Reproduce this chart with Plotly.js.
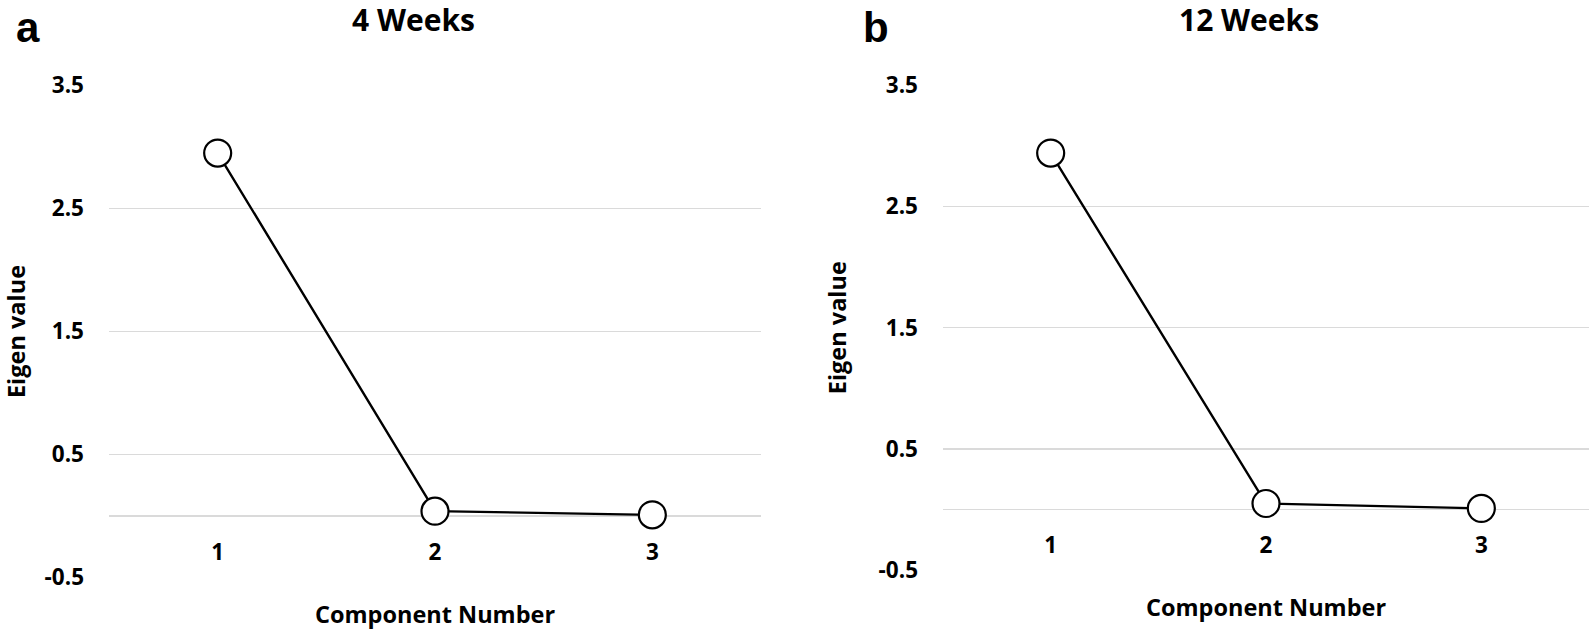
<!DOCTYPE html>
<html><head><meta charset="utf-8">
<script src="https://cdn.plot.ly/plotly-3.0.1.min.js"></script>
<style>html,body{margin:0;padding:0;background:#fff}#chart{width:1594px;height:632px}</style>
</head><body><div id="chart"></div>
<script>
// ---- data ----
const components = [1, 2, 3];
const componentLabels = ['1', '2', '3'];
const eigen4Weeks = [2.95, 0.04, 0.01];
const eigen12Weeks = [2.94, 0.05, 0.01];
const yTickVals = [-0.5, 0.5, 1.5, 2.5, 3.5];
const yTickText = ['-0.5', '0.5', '1.5', '2.5', '3.5'];
const panelTitles = ['4 Weeks', '12 Weeks'];
const panelLetters = ['a', 'b'];
const xTitle = 'Component Number';
const yTitle = 'Eigen value';

// ---- layout helpers ----
const W = 1594, H = 632;
const FONT = '"Open Sans", "Noto Sans", sans-serif';
const yRange = [-0.5, 3.5];
function py(px) { return (H - px) / H; }
const domA = {x: [109 / W, 761 / W], y: [py(577.6), py(85.4)]};
const domB = {x: [943 / W, 1589 / W], y: [py(570.2), py(85.2)]};
function zeroPos(dom) {
  return dom.y[0] + (0 - yRange[0]) / (yRange[1] - yRange[0]) * (dom.y[1] - dom.y[0]);
}

function trace(y, xa, ya) {
  return {
    x: components, y: y, xaxis: xa, yaxis: ya, type: 'scatter', mode: 'lines+markers',
    line: {color: '#000', width: 2.4},
    marker: {symbol: 'circle', size: 27, color: '#fff', line: {color: '#000', width: 2.2}},
    showlegend: false, cliponaxis: false
  };
}
const tickFont = {family: FONT, size: 22.5, color: '#000', weight: 700};
const titleFont = {family: FONT, size: 23.5, color: '#000', weight: 700};

function xax(dom) {
  return {
    domain: dom.x, anchor: 'free', position: zeroPos(dom), range: [0.5, 3.5],
    tickmode: 'array', tickvals: components, ticktext: componentLabels,
    showgrid: false, zeroline: false, showline: false, ticks: '',
    ticklabelstandoff: 20, tickfont: tickFont,
    title: {text: xTitle, font: titleFont, standoff: 40}, fixedrange: true
  };
}
function yax(dom, anchor) {
  return {
    domain: dom.y, anchor: anchor, range: yRange,
    tickmode: 'array', tickvals: yTickVals, ticktext: yTickText,
    showgrid: true, gridcolor: '#dadada', gridwidth: 1.3,
    zeroline: true, zerolinecolor: '#dadada', zerolinewidth: 1.3,
    showline: false, ticks: '', ticklabelstandoff: 24, tickfont: tickFont,
    title: {text: yTitle, font: titleFont, standoff: 25}, fixedrange: true
  };
}

const data = [trace(eigen4Weeks, 'x', 'y'), trace(eigen12Weeks, 'x2', 'y2')];

const annotations = [
  {text: panelTitles[0], x: 413 / W, y: py(20), xref: 'paper', yref: 'paper', xanchor: 'center', yanchor: 'middle', showarrow: false, font: {family: FONT, size: 30, color: '#000', weight: 700}},
  {text: panelTitles[1], x: 1249 / W, y: py(20), xref: 'paper', yref: 'paper', xanchor: 'center', yanchor: 'middle', showarrow: false, font: {family: FONT, size: 30, color: '#000', weight: 700}},
  {text: panelLetters[0], x: 14 / W, y: py(27), xref: 'paper', yref: 'paper', xanchor: 'left', yanchor: 'middle', showarrow: false, font: {family: '"Liberation Sans", Arial, sans-serif', size: 42, color: '#000', weight: 700}},
  {text: panelLetters[1], x: 861 / W, y: py(27), xref: 'paper', yref: 'paper', xanchor: 'left', yanchor: 'middle', showarrow: false, font: {family: '"Liberation Sans", Arial, sans-serif', size: 42, color: '#000', weight: 700}}
];

const layout = {
  width: W, height: H,
  margin: {l: 0, r: 0, t: 0, b: 0},
  paper_bgcolor: '#fff', plot_bgcolor: '#fff',
  showlegend: false,
  xaxis: xax(domA), yaxis: yax(domA, 'x'),
  xaxis2: xax(domB), yaxis2: yax(domB, 'x2'),
  annotations: annotations,
  font: {family: FONT, color: '#000'}
};

Plotly.newPlot('chart', data, layout, {displayModeBar: false, staticPlot: true});
</script>
</body></html>
